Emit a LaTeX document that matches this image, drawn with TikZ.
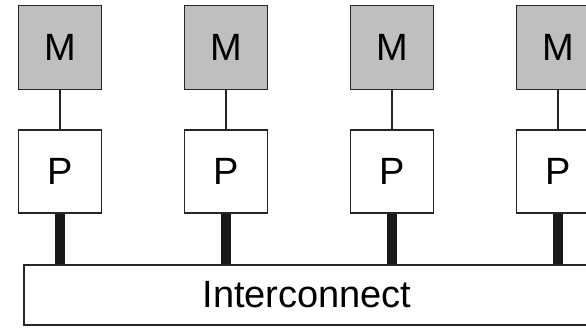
\documentclass[tikz,border=0pt]{standalone}
\usepackage{fontspec}
\setmainfont{Liberation Sans}
\begin{document}
\begin{tikzpicture}[x=1pt,y=-1pt,
  bigtext/.style={font=\fontsize{38}{40}\selectfont},
  mbox/.style={draw=black!85,line width=1.8pt,fill=black!25,minimum width=83pt,minimum height=84pt,inner sep=0pt,bigtext},
  pbox/.style={draw=black!85,line width=1.8pt,fill=white,minimum width=83pt,minimum height=83pt,inner sep=0pt,bigtext},
  thin/.style={draw=black!85,line width=2pt},
  thick/.style={draw=black!90,line width=10pt}]
\useasboundingbox (0,0) rectangle (586,327);
\begin{scope}
\clip (0,0) rectangle (586,327);
\node[draw=black!85,line width=1.8pt,fill=white,minimum width=566pt,minimum height=60pt,inner sep=0pt,bigtext] (ic) at (307,295) {Interconnect};
\foreach \i/\x in {1/60,2/226,3/392,4/558} {
  \node[mbox] (m\i) at (\x,47.5) {M};
  \node[pbox] (p\i) at (\x,171.5) {P};
  \draw[thin] (m\i.south) -- (p\i.north);
  \draw[thick] (p\i.south) -- (p\i.south |- ic.north);
}
\end{scope}
\end{tikzpicture}
\end{document}
